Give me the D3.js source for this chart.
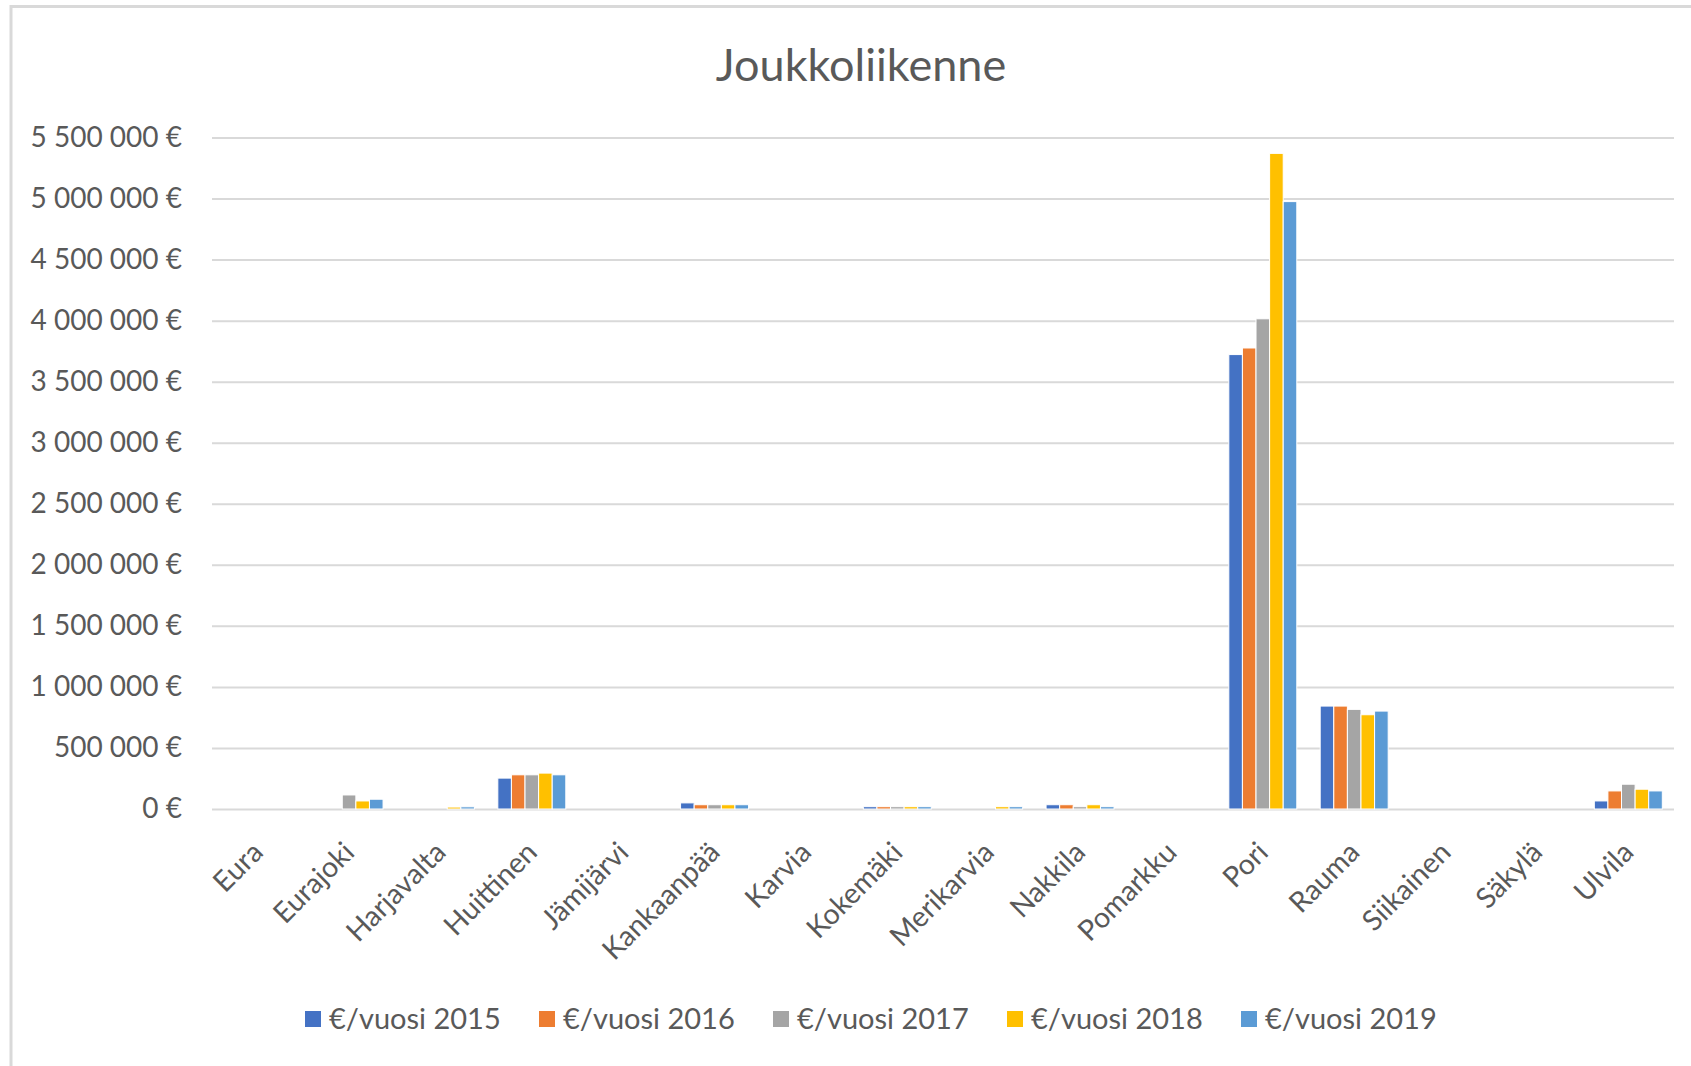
<!DOCTYPE html>
<html>
<head>
<meta charset="utf-8">
<script src="https://cdn.jsdelivr.net/npm/d3@7"></script>
<style>
  html, body { margin: 0; padding: 0; background: #fff; }
  svg { display: block; }
  text { font-family: Lato, "Open Sans", sans-serif; fill: #595959; }
</style>
</head>
<body>
<svg id="chart" width="1691" height="1066"></svg>
<script>
const title = "Joukkoliikenne";
const categories = ["Eura", "Eurajoki", "Harjavalta", "Huittinen", "Jämijärvi", "Kankaanpää", "Karvia", "Kokemäki", "Merikarvia", "Nakkila", "Pomarkku", "Pori", "Rauma", "Siikainen", "Säkylä", "Ulvila"];
const seriesNames = ["€/vuosi 2015", "€/vuosi 2016", "€/vuosi 2017", "€/vuosi 2018", "€/vuosi 2019"];
const v2015 = [0, 0, 0, 253000, 0, 50000, 0, 19000, 0, 35000, 0, 3722000, 843000, 0, 0, 66000];
const v2016 = [0, 0, 0, 280000, 0, 35000, 0, 19000, 0, 35000, 0, 3776000, 843000, 0, 0, 148000];
const v2017 = [0, 115000, 0, 280000, 0, 35000, 0, 19000, 0, 19000, 0, 4015000, 816000, 0, 0, 203000];
const v2018 = [0, 66000, 16000, 294000, 0, 35000, 0, 19000, 19000, 35000, 0, 5370000, 772000, 0, 0, 162000];
const v2019 = [0, 80000, 18000, 280000, 0, 35000, 0, 19000, 19000, 19000, 0, 4975000, 802000, 0, 0, 148000];
const yTicks = [0, 500000, 1000000, 1500000, 2000000, 2500000, 3000000, 3500000, 4000000, 4500000, 5000000, 5500000];
const colors = ["#4472C4", "#ED7D31", "#A5A5A5", "#FFC000", "#5B9BD5"];

const seriesValues = [v2015, v2016, v2017, v2018, v2019];

const svg = d3.select("#chart");

// chart border
svg.append("rect")
  .attr("x", 11).attr("y", 6.5)
  .attr("width", 1720).attr("height", 1100)
  .attr("fill", "none").attr("stroke", "#d9d9d9").attr("stroke-width", 3);

const pLeft = 212, pRight = 1674, pTop = 137.5, pBottom = 809;

const x = d3.scaleBand().domain(categories).range([pLeft, pRight])
  .paddingInner(0.256).paddingOuter(0.128);
const xs = d3.scaleBand().domain(seriesNames).range([0, x.bandwidth()]).padding(0);
const y = d3.scaleLinear().domain([0, 5500000]).range([pBottom, pTop]);

const fmt = v => d3.format(",.0f")(v).replace(/,/g, " ") + " €";

// gridlines
const grid = svg.append("g").attr("transform", `translate(${pLeft},0)`)
  .call(d3.axisLeft(y).tickValues(yTicks).tickSize(-(pRight - pLeft)).tickFormat(""));
grid.select(".domain").remove();
grid.selectAll("line").attr("stroke", "#d9d9d9").attr("stroke-width", 2);

// y labels
const yAxis = svg.append("g").attr("transform", `translate(${pLeft},0)`)
  .call(d3.axisLeft(y).tickValues(yTicks).tickSize(0).tickPadding(30).tickFormat(fmt));
yAxis.select(".domain").remove();
yAxis.selectAll("text")
  .attr("font-size", 28)
  .style("font-family", "Lato, sans-serif")
  .attr("fill", "#595959");

// bars
const rows = categories.map((c, i) => ({ c, vals: seriesValues.map((s, j) => ({ name: seriesNames[j], v: s[i], color: colors[j] })) }));
const groups = svg.append("g").selectAll("g").data(rows).join("g")
  .attr("transform", d => `translate(${x(d.c)},0)`);
groups.selectAll("rect").data(d => d.vals.filter(e => e.v > 0)).join("rect")
  .attr("x", d => xs(d.name))
  .attr("width", xs.bandwidth())
  .attr("y", d => y(d.v))
  .attr("height", d => y(0) - y(d.v))
  .attr("fill", d => d.color)
  .attr("stroke", "#fff")
  .attr("stroke-width", 1);

// x labels
const xAxis = svg.append("g").attr("transform", `translate(0,${pBottom})`)
  .call(d3.axisBottom(x).tickSize(0).tickFormat(d => d));
xAxis.select(".domain").remove();
xAxis.selectAll("text")
  .attr("font-size", 28.5)
  .attr("fill", "#595959")
  .attr("text-anchor", "end")
  .attr("y", 0).attr("dy", "0.35em")
  .attr("transform", "translate(0,38) rotate(-45)");

// title
svg.append("text").attr("x", 861).attr("y", 81)
  .attr("text-anchor", "middle").attr("font-size", 45)
  .text(title);

// legend
const legend = svg.append("g").selectAll("g").data(seriesNames).join("g")
  .attr("transform", (d, i) => `translate(${305 + i * 234},1019)`);
legend.append("rect").attr("x", 0).attr("y", -8).attr("width", 16).attr("height", 16)
  .attr("fill", (d, i) => colors[i]);
legend.append("text").attr("x", 24).attr("dy", "0.35em").attr("font-size", 29)
  .text(d => d);
</script>
</body>
</html>
